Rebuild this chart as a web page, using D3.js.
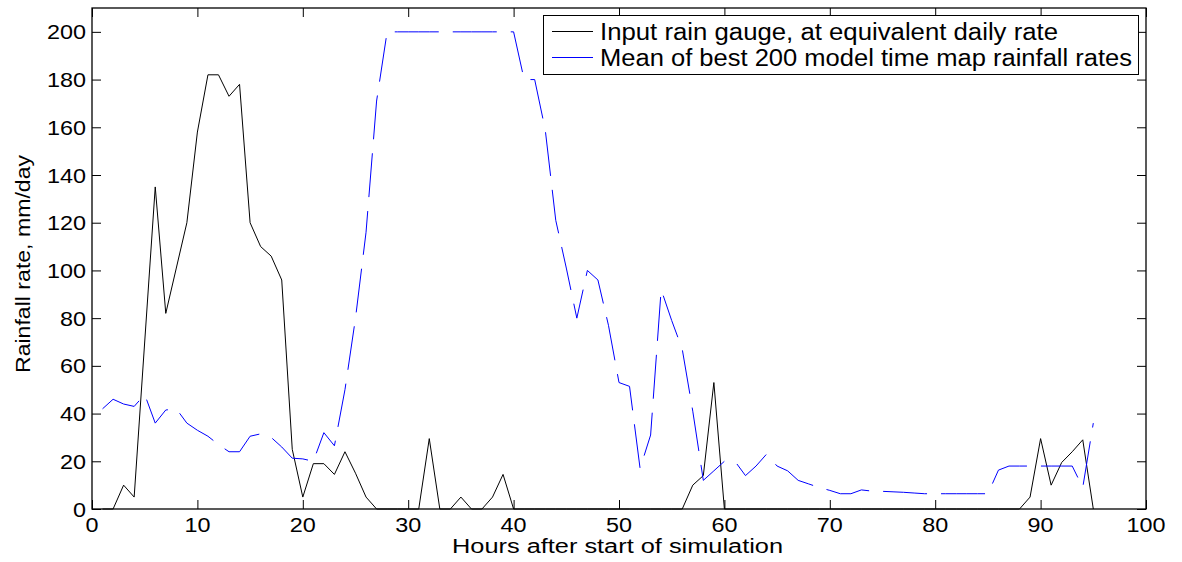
<!DOCTYPE html>
<html><head><meta charset="utf-8">
<script src="https://cdn.jsdelivr.net/npm/d3@7"></script>
<style>
html,body{margin:0;padding:0;background:#fff;}
svg{display:block;}
text{font-family:"Liberation Sans",Arial,Helvetica,sans-serif;fill:#000;}
</style></head>
<body>
<svg id="chart" width="1182" height="562"></svg>
<script>
// ---- data ----
const gaugeHours = d3.range(1, 96);
const gaugeValues = [0,0,10,5,70,135,82,101,120,158,182,182,173,178,120,110,106,96,25,5,
  19,19,14.5,24,15,5,0,0,0,0,0,29.5,0,0,5,0,0,5,14.5,0,
  0,0,0,0,0,0,0,0,0,0,0,0,0,0,0,0,10,14,53,0,
  0,0,0,0,0,0,0,0,0,0,0,0,0,0,0,0,0,0,0,0,
  0,0,0,0,0,0,0,0,5,29.5,10,19.5,24,29,0];
const modelHours = d3.range(1, 96);
const modelValues = [42,46,44,43,48,36,41.5,42,36,33,30.5,27,24,24,30.5,31.5,30,26,21.3,21,
  20,32,26.5,50,80,116,171,200,200,200,200,200,200,200,200,200,200,200,200,200,
  180,180,159,121,101,80,100,96,77,53,51.4,17,31,92,79,67,41,12,16,20,
  20,14,18,23,18,16,12,10.5,9,7.8,6.4,6.4,8,7.5,7.4,7.2,7,6.7,6.4,6.4,
  6.4,6.4,6.4,6.4,6.4,16.3,18,18,18,18,18,18,18,9,36];
const xTicks = [0,10,20,30,40,50,60,70,80,90,100];
const yTicks = [0,20,40,60,80,100,120,140,160,180,200];
const legendLabels = ["Input rain gauge, at equivalent daily rate","Mean of best 200 model time map rainfall rates"];
const xLabel = "Hours after start of simulation";
const yLabel = "Rainfall rate, mm/day";

// ---- layout ----
const L = 92, R = 1146, T = 8, B = 509;
const svg = d3.select("#chart");
const x = d3.scaleLinear().domain([0,100]).range([L,R]);
const y = d3.scaleLinear().domain([0,210]).range([B,T]);

// lines
const line = d3.line().x(d=>x(d[0])).y(d=>y(d[1]));
svg.append("path").datum(gaugeHours.map((h,i)=>[h,gaugeValues[i]]))
  .attr("d",line).attr("fill","none").attr("stroke","#000").attr("stroke-width",1);
svg.append("path").datum(modelHours.map((h,i)=>[h,modelValues[i]]))
  .attr("d",line).attr("fill","none").attr("stroke","#0000ff").attr("stroke-width",1)
  .attr("stroke-dasharray","44,14");

// axes (ticks inward on all sides)
const tk = 9;
const gx = svg.append("g").attr("transform",`translate(0,${B})`)
  .call(d3.axisBottom(x).tickValues(xTicks).tickSizeInner(-tk).tickSizeOuter(0).tickFormat(""));
const gxt = svg.append("g").attr("transform",`translate(0,${T})`)
  .call(d3.axisTop(x).tickValues(xTicks).tickSizeInner(-tk).tickSizeOuter(0).tickFormat(""));
const gy = svg.append("g").attr("transform",`translate(${L},0)`)
  .call(d3.axisLeft(y).tickValues(yTicks).tickSizeInner(-tk).tickSizeOuter(0).tickFormat(""));
const gyr = svg.append("g").attr("transform",`translate(${R},0)`)
  .call(d3.axisRight(y).tickValues(yTicks).tickSizeInner(-tk).tickSizeOuter(0).tickFormat(""));
[gx,gxt,gy,gyr].forEach(g=>{g.select(".domain").remove(); g.selectAll("line").attr("stroke","#000").attr("stroke-width",1);});

// frame
svg.append("rect").attr("x",L).attr("y",T).attr("width",R-L).attr("height",B-T)
  .attr("fill","none").attr("stroke","#000").attr("stroke-width",1.3);

// tick labels
svg.append("g").selectAll("text").data(xTicks).join("text")
  .attr("x",d=>x(d)).attr("y",532).attr("text-anchor","middle")
  .attr("font-size",20)
  .attr("textLength",d=>String(d).length*13).attr("lengthAdjust","spacingAndGlyphs")
  .text(d=>d);
svg.append("g").selectAll("text").data(yTicks).join("text")
  .attr("x",86).attr("y",d=>y(d)+7.5).attr("text-anchor","end")
  .attr("font-size",21)
  .attr("textLength",d=>String(d).length*13).attr("lengthAdjust","spacingAndGlyphs")
  .text(d=>d);

// axis labels
svg.append("text").attr("x",617.5).attr("y",553).attr("text-anchor","middle")
  .attr("font-size",20).attr("textLength",331).attr("lengthAdjust","spacingAndGlyphs").text(xLabel);
svg.append("text").attr("transform","translate(30,264) rotate(-90)").attr("text-anchor","middle")
  .attr("font-size",21).attr("textLength",218).attr("lengthAdjust","spacingAndGlyphs").text(yLabel);

// legend
const lg = svg.append("g");
lg.append("rect").attr("x",543.5).attr("y",15.5).attr("width",595).attr("height",59)
  .attr("fill","#fff").attr("stroke","#000").attr("stroke-width",1);
const legColors = ["#000","#0000ff"], legWidths=[458,532], legY=[31.5,57.5];
legendLabels.forEach((t,i)=>{
  lg.append("line").attr("x1",552).attr("x2",593).attr("y1",legY[i]).attr("y2",legY[i])
    .attr("stroke",legColors[i]).attr("stroke-width",1);
  lg.append("text").attr("x",600).attr("y",legY[i]+8.5).attr("font-size",23)
    .attr("textLength",legWidths[i]).attr("lengthAdjust","spacingAndGlyphs").text(t);
});
</script>
</body></html>
